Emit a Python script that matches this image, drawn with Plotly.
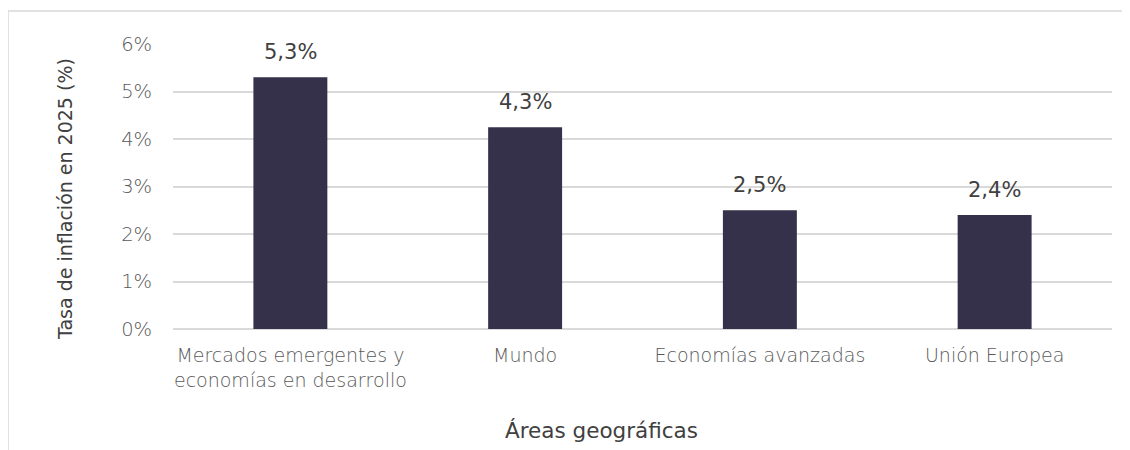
import plotly.graph_objects as go

categories = ["Mercados emergentes y<br>economías en desarrollo", "Mundo",
              "Economías avanzadas", "Unión Europea"]
values = [5.3, 4.25, 2.5, 2.4]
labels = ["5,3%", "4,3%", "2,5%", "2,4%"]
y_ticks = [0, 1, 2, 3, 4, 5, 6]
y_tick_labels = ["0%", "1%", "2%", "3%", "4%", "5%", "6%"]

BAR = "#35314a"
GRID = "#d9d9d9"
TICK = "#595959"
TITLE = "#404040"
FONT = "DejaVu Sans"

# plot area in page pixels (body has an 8px margin)
PL, PR, PT, PB = 173, 1112, 44, 329
PW, PH = PR - PL, PB - PT
OFF = 8

fig = go.Figure()
fig.add_trace(go.Bar(x=categories, y=values, marker=dict(color=BAR, line=dict(width=0)),
                     width=0.315, hoverinfo="skip"))

annotations = []
for c, v, t in zip(categories, values, labels):
    annotations.append(dict(x=c, y=v, xref="x", yref="y", text=t, showarrow=False,
                            yanchor="bottom", yshift=11,
                            font=dict(family=FONT, size=21, color=TITLE)))
annotations.append(dict(x=(65 - PL) / PW, y=(PB - 199) / PH, xref="paper", yref="paper",
                        text="Tasa de inflación en 2025 (%)", textangle=-90, showarrow=False,
                        xanchor="center", yanchor="middle",
                        font=dict(family=FONT, size=19, color=TITLE)))
annotations.append(dict(x=(601 - PL) / PW, y=(PB - 430) / PH, xref="paper", yref="paper",
                        text="Áreas geográficas", showarrow=False,
                        xanchor="center", yanchor="middle",
                        font=dict(family=FONT, size=21.5, color=TITLE)))

fig.update_layout(
    width=1130, height=450,
    margin=dict(l=PL - OFF, r=1130 - PR + OFF, t=PT - OFF, b=450 - PB + OFF),
    paper_bgcolor="white", plot_bgcolor="white",
    showlegend=False,
    annotations=annotations,
    shapes=[dict(type="rect", xref="paper", yref="paper",
                 x0=(8 - PL) / PW, x1=1.3, y0=-0.6, y1=(PB - 11) / PH,
                 line=dict(color=GRID, width=1.5), fillcolor="rgba(0,0,0,0)", layer="below")],
    xaxis=dict(showgrid=False, showline=False, zeroline=False,
               ticks="outside", ticklen=9, tickcolor="rgba(0,0,0,0)",
               tickfont=dict(family=FONT, size=19, color=TICK, weight=200)),
    yaxis=dict(range=[0, 6], tickvals=y_ticks, ticktext=y_tick_labels,
               showgrid=True, gridcolor=GRID, gridwidth=1.5,
               zeroline=True, zerolinecolor=GRID, zerolinewidth=1.5, showline=False,
               ticks="outside", ticklen=16, tickcolor="rgba(0,0,0,0)",
               tickfont=dict(family=FONT, size=19.5, color=TICK, weight=200)),
)

fig.write_html("out.html")
